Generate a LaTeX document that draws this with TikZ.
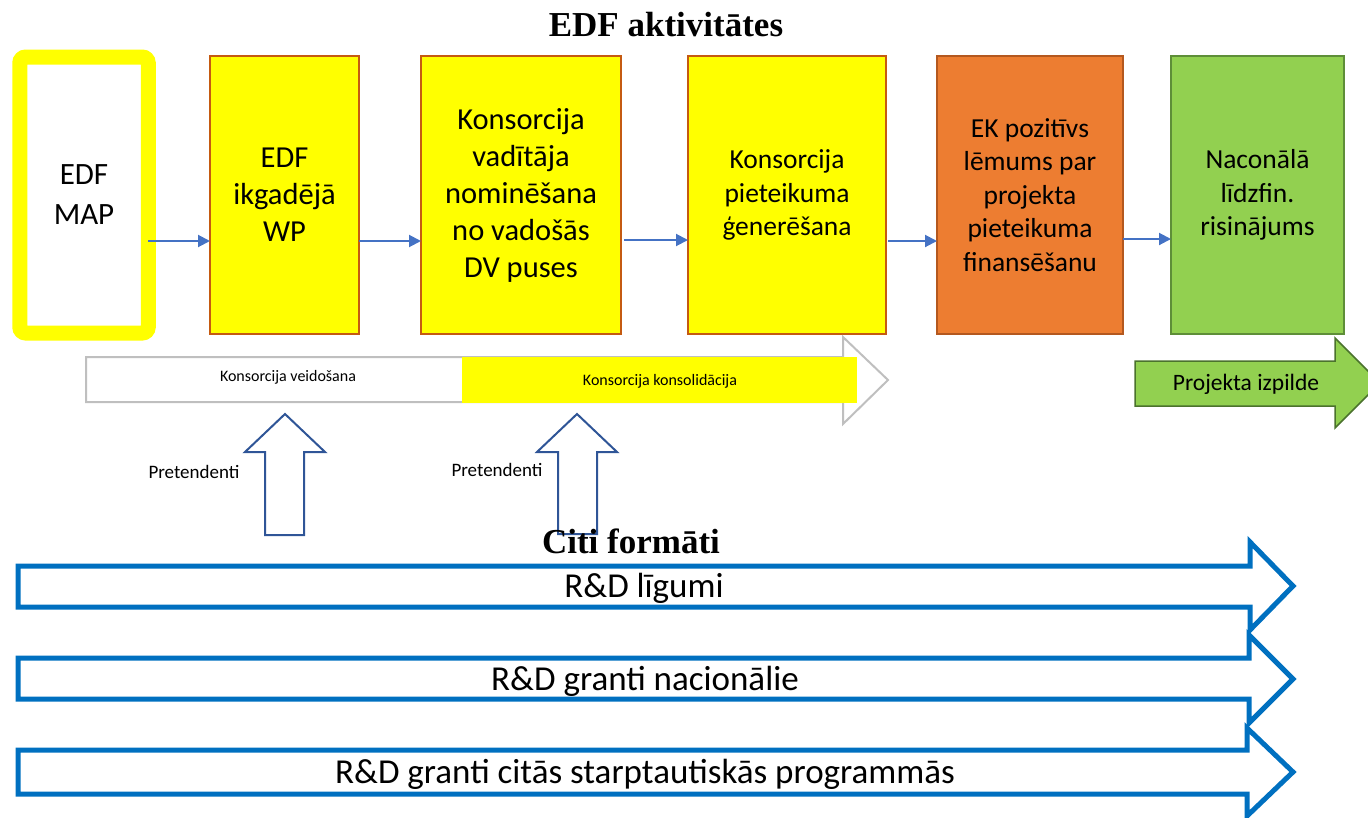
\documentclass[tikz,border=0pt]{standalone}
\usepackage{fontspec}
\setmainfont{Liberation Serif}
\setsansfont{Carlito}
\usepackage{tikz}
\usetikzlibrary{shapes,arrows.meta}
\definecolor{fillyel}{HTML}{FFFF00}
\definecolor{edgebrown}{HTML}{C55A11}
\definecolor{fillorange}{HTML}{ED7D31}
\definecolor{edgeorange}{HTML}{B4581F}
\definecolor{fillgreen}{HTML}{92D050}
\definecolor{edgegreen}{HTML}{5E8E38}
\definecolor{connblue}{HTML}{4472C4}
\definecolor{upblue}{HTML}{2F5597}
\definecolor{bigblue}{HTML}{0070C0}
\definecolor{pathgrey}{HTML}{BFBFBF}

\begin{document}
\begin{tikzpicture}[x=1pt,y=1pt,yscale=-1,
  stepbox/.style={draw=edgebrown,line width=2pt,fill=fillyel,inner sep=0pt,outer sep=0pt,align=center},
  bigtxt/.style={font=\sffamily\fontsize{30.5}{37}\selectfont},
  midtxt/.style={font=\sffamily\fontsize{27.5}{33.5}\selectfont},
  smalltxt/.style={font=\sffamily\fontsize{16}{19}\selectfont,inner sep=0pt},
  headtxt/.style={font=\bfseries\fontsize{35}{40}\selectfont,inner sep=0pt},
  conn/.style={draw=connblue,line width=2pt,-{Triangle[length=12pt,width=12pt]}},
  uparrow/.style={draw=upblue,line width=2pt,fill=white,line join=miter},
  formarrow/.style={draw=bigblue,line width=5pt,line join=miter}]
\useasboundingbox (0,0) rectangle (1368,817);
\clip (0,0) rectangle (1368,817);

% Title
\node[headtxt] (title) at (666,25) {EDF aktivitātes};

% Boxes of the EDF activities
\node[draw=fillyel,line width=15pt,rounded corners=6pt,fill=white,inner sep=0pt,outer sep=0pt,
  minimum width=128.5,minimum height=276,align=center,font=\sffamily\fontsize{31}{40}\selectfont]
  (map) at (84,195) {EDF\\MAP};
\node[stepbox,bigtxt,minimum width=149,minimum height=278] (wp) at (284.5,195) {EDF\\ikgadējā\\WP};
\node[stepbox,bigtxt,minimum width=200,minimum height=278] (nomin) at (521,195)
  {Konsorcija\\vadītāja\\nominēšana\\no vadošās\\DV puses};
\node[stepbox,midtxt,minimum width=198,minimum height=278] (gener) at (787,195)
  {Konsorcija\\pieteikuma\\ģenerēšana};
\node[stepbox,midtxt,draw=edgeorange,fill=fillorange,minimum width=186,minimum height=278] (ekpoz) at (1030,195)
  {EK pozitīvs\\lēmums par\\projekta\\pieteikuma\\finansēšanu};
\node[stepbox,midtxt,draw=edgegreen,fill=fillgreen,minimum width=173,minimum height=278] (lidzfin) at (1257.5,195)
  {Naconālā\\līdzfin.\\risinājums};

% Connectors
\coordinate (rowa) at (0,241);
\coordinate (rowb) at (0,240);
\coordinate (rowc) at (0,239);
\draw[conn] (map.east |- rowa) -- (wp.west |- rowa);
\draw[conn] (wp.east |- rowa) -- (nomin.west |- rowa);
\draw[conn] ([xshift=3pt]nomin.east |- rowb) -- (gener.west |- rowb);
\draw[conn] ([xshift=2pt]gener.east |- rowa) -- (ekpoz.west |- rowa);
\draw[conn] (ekpoz.east |- rowc) -- (lidzfin.west |- rowc);

% Consortium process arrow
\draw[draw=pathgrey,line width=2pt,fill=white,line join=miter] (86,357) -- (843,357) -- (843,337) -- (888,380)
  -- (843,424) -- (843,402) -- (86,402) -- cycle;
\fill[fillyel] (462,357) rectangle (857,403);
\node[smalltxt] (veid) at (288,377) {Konsorcija veidošana};
\node[smalltxt] (konsol) at (660,381) {Konsorcija konsolidācija};

% Projekta izpilde arrow
\draw[draw=edgegreen!80!black,line width=1.5pt,fill=fillgreen,line join=miter] (1135,361) -- (1335,361) -- (1335,338)
  -- (1380,383) -- (1335,428) -- (1335,406) -- (1135,406) -- cycle;
\node[font=\sffamily\fontsize{23.5}{28}\selectfont,inner sep=0pt] (izpilde) at (1246,384) {Projekta izpilde};

% Pretendenti arrows
\draw[uparrow] (265,535) -- (265,452) -- (245,452) -- (285,414) -- (325,452) -- (304,452) -- (304,535) -- cycle;
\node[smalltxt,font=\sffamily\fontsize{19}{22}\selectfont] (pret1) at (194,472) {Pretendenti};
\draw[uparrow] (558,534) -- (558,452) -- (537,452) -- (577,414) -- (617,452) -- (597,452) -- (597,534) -- cycle;
\node[smalltxt,font=\sffamily\fontsize{19}{22}\selectfont] (pret2) at (497,470) {Pretendenti};

% Other formats
\node[headtxt] (citi) at (631,541) {Citi formāti};
\draw[formarrow] (18,566) -- (1250,566) -- (1250,542) -- (1293,586) -- (1250,630) -- (1250,607) -- (18,607) -- cycle;
\node[font=\sffamily\fontsize{35}{40}\selectfont,inner sep=0pt] (ligumi) at (644,588) {R\&D līgumi};
\draw[formarrow] (18,658) -- (1249,658) -- (1249,635) -- (1293,679) -- (1249,723) -- (1249,699) -- (18,699) -- cycle;
\node[font=\sffamily\fontsize{35}{40}\selectfont,inner sep=0pt] (nacion) at (645,681) {R\&D granti nacionālie};
\draw[formarrow] (18,750) -- (1247,750) -- (1247,728) -- (1293,772) -- (1247,816) -- (1247,794) -- (18,794) -- cycle;
\node[font=\sffamily\fontsize{35}{40}\selectfont,inner sep=0pt] (starpt) at (645,774) {R\&D granti citās starptautiskās programmās};
\end{tikzpicture}
\end{document}
